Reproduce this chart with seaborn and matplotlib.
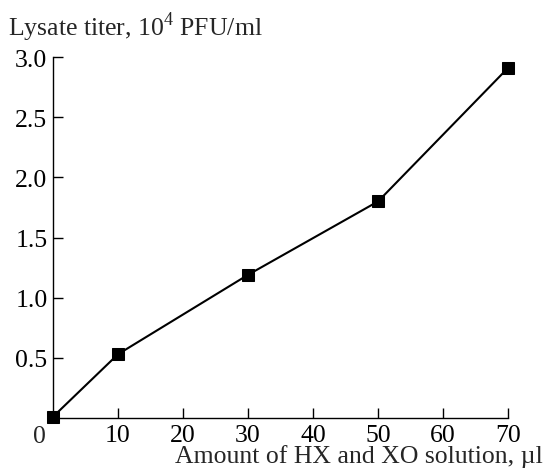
import pandas as pd
import matplotlib.pyplot as plt
import seaborn as sns

# data
amount = [0, 10, 30, 50, 70]
titer = [0.01, 0.53, 1.19, 1.80, 2.91]
x_ticks = [10, 20, 30, 40, 50, 60, 70]
y_ticks = [0.5, 1.0, 1.5, 2.0, 2.5, 3.0]

df = pd.DataFrame({'amount': amount, 'titer': titer})

sns.set_style('ticks')
plt.rcParams['font.family'] = ['Liberation Serif', 'DejaVu Serif']
plt.rcParams['mathtext.fontset'] = 'custom'
plt.rcParams['mathtext.rm'] = 'Liberation Serif'

fs = 18.5
fig = plt.figure(figsize=(5.44, 4.77), dpi=100)
ax = fig.add_axes([0.0974, 0.1216, 0.8366, 0.7568])

sns.lineplot(data=df, x='amount', y='titer', ax=ax, color='black', lw=1.5,
             marker='s', markersize=8, markeredgecolor='black', clip_on=False)

ax.set_xlim(0, 70)
ax.set_ylim(0, 3.0)
ax.set_xticks(x_ticks)
ax.set_yticks(y_ticks)
ax.set_yticklabels([f'{v:.1f}' for v in y_ticks])
ax.tick_params(direction='in', length=7, width=1, labelsize=fs, colors='black', pad=4)
sns.despine(ax=ax)
for s in ['left', 'bottom']:
    ax.spines[s].set_linewidth(1)
    ax.spines[s].set_color('black')

ax.set_xlabel('')
ax.set_ylabel('')
# shared origin label
ax.annotate('0', xy=(0, 0), xytext=(-14, -7), textcoords='offset pixels',
            ha='center', va='top', fontsize=fs)
fig.text(0.997, 0.042, 'Amount of HX and XO solution, µl', ha='right', va='center', fontsize=fs)
fig.text(0.015, 0.943, r'Lysate titer, 10$^{\mathrm{4}}$ PFU/ml', ha='left', va='center', fontsize=fs)

plt.savefig('out.png', dpi=100)
